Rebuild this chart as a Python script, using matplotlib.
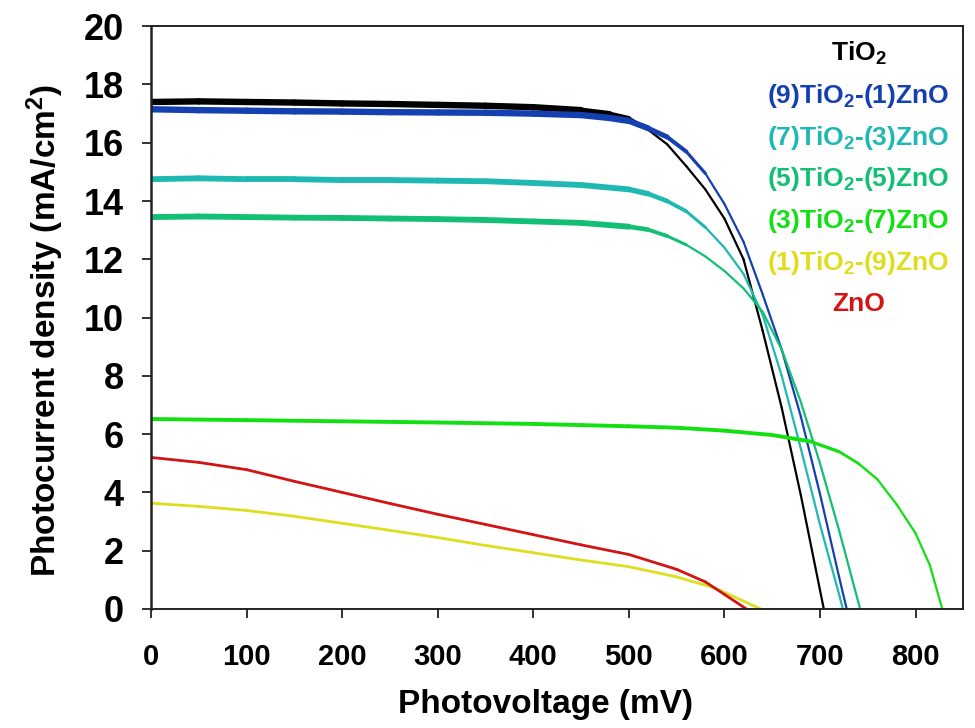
import matplotlib
matplotlib.use('Agg')
import matplotlib.pyplot as plt
from matplotlib.collections import LineCollection
import numpy as np

plt.rcParams['font.family'] = ['Liberation Sans', 'DejaVu Sans']
plt.rcParams['font.weight'] = 'bold'
plt.rcParams['mathtext.fontset'] = 'custom'
plt.rcParams['mathtext.rm'] = 'Liberation Sans:bold'
plt.rcParams['mathtext.it'] = 'Liberation Sans:bold'
plt.rcParams['mathtext.bf'] = 'Liberation Sans:bold'
plt.rcParams['mathtext.default'] = 'rm'

# J-V curves: voltage (mV), current density (mA/cm2)
v_tio2 = [0, 50, 100, 150, 200, 250, 300, 350, 400, 450, 480, 500, 520, 540, 560, 580, 600, 620, 640, 660, 680, 700, 704]
j_tio2 = [17.4, 17.42, 17.4, 17.38, 17.35, 17.33, 17.3, 17.27, 17.22, 17.12, 17.0, 16.85, 16.45, 15.95, 15.2, 14.4, 13.4, 12.0, 9.55, 6.9, 3.9, 0.65, 0]

v_91 = [0, 50, 100, 150, 200, 250, 300, 350, 400, 450, 480, 500, 520, 540, 560, 580, 600, 620, 640, 660, 680, 700, 720, 728]
j_91 = [17.15, 17.12, 17.1, 17.08, 17.07, 17.05, 17.04, 17.03, 17.0, 16.95, 16.85, 16.75, 16.5, 16.2, 15.7, 14.95, 13.9, 12.6, 10.8, 8.9, 6.6, 3.95, 1.1, 0]

v_73 = [0, 50, 100, 150, 200, 250, 300, 350, 400, 450, 500, 520, 540, 560, 580, 600, 620, 640, 660, 680, 700, 720, 724]
j_73 = [14.75, 14.78, 14.75, 14.75, 14.72, 14.72, 14.7, 14.68, 14.62, 14.55, 14.4, 14.25, 14.0, 13.65, 13.1, 12.4, 11.5, 10.1, 8.0, 5.5, 2.9, 0.5, 0]

v_55 = [0, 50, 100, 150, 200, 250, 300, 350, 400, 450, 500, 520, 540, 560, 580, 600, 620, 640, 660, 680, 700, 720, 740, 742]
j_55 = [13.45, 13.47, 13.45, 13.43, 13.42, 13.4, 13.38, 13.35, 13.3, 13.25, 13.12, 13.02, 12.8, 12.5, 12.1, 11.6, 11.0, 10.2, 8.9, 7.1, 5.0, 2.7, 0.25, 0]

v_37 = [0, 100, 200, 300, 400, 450, 500, 550, 600, 650, 690, 720, 740, 760, 780, 800, 815, 828]
j_37 = [6.52, 6.48, 6.44, 6.4, 6.35, 6.31, 6.27, 6.22, 6.12, 5.97, 5.75, 5.4, 5.0, 4.45, 3.6, 2.6, 1.5, 0]

v_19 = [0, 50, 100, 150, 200, 250, 300, 350, 400, 450, 500, 550, 590, 610, 638]
j_19 = [3.63, 3.52, 3.38, 3.18, 2.94, 2.7, 2.45, 2.18, 1.93, 1.68, 1.45, 1.1, 0.72, 0.42, 0]

v_zno = [0, 50, 100, 150, 200, 250, 300, 350, 400, 450, 500, 550, 580, 600, 623]
j_zno = [5.2, 5.03, 4.78, 4.38, 4.0, 3.62, 3.25, 2.9, 2.55, 2.2, 1.87, 1.36, 0.93, 0.5, 0]

labels = ['TiO$_2$', '(9)TiO$_2$-(1)ZnO', '(7)TiO$_2$-(3)ZnO', '(5)TiO$_2$-(5)ZnO',
          '(3)TiO$_2$-(7)ZnO', '(1)TiO$_2$-(9)ZnO', 'ZnO']
colors = ['#000000', '#1540b2', '#1fb8b2', '#12bf74', '#12e012', '#dede1e', '#d21414']
curves = [(v_tio2, j_tio2), (v_91, j_91), (v_73, j_73), (v_55, j_55),
          (v_37, j_37), (v_19, j_19), (v_zno, j_zno)]
# noisy flat part drawn thicker: (end of noise in mV, width)
noisy = [(530, 4.6), (590, 4.6), (590, 4.2), (570, 4.2), (760, 2.8), (0, 2.0), (0, 2.0)]

fig = plt.figure(figsize=(9.75, 7.28), dpi=100)
ax = fig.add_axes([0.155, 0.1635, 0.833, 0.8005])

for (v, j), c, (vend, w) in zip(curves, colors, noisy):
    v = np.array(v, dtype=float)
    j = np.array(j, dtype=float)
    pts = np.column_stack([v, j])
    segs = np.stack([pts[:-1], pts[1:]], axis=1)
    mid = (v[:-1] + v[1:]) / 2
    if vend > 0:
        widths = np.interp(mid, [vend - 90, vend], [w, 1.6])
    else:
        widths = np.full(len(mid), w)
    lc = LineCollection(segs, colors=c, linewidths=widths, capstyle='round', joinstyle='round')
    ax.add_collection(lc)

ax.set_xlim(0, 850)
ax.set_ylim(0, 20)
ax.set_xticks(np.arange(0, 801, 100))
ax.set_yticks(np.arange(0, 21, 2))

for s in ax.spines.values():
    s.set_linewidth(1.4)
    s.set_color('#222222')
ax.spines['left'].set_linewidth(1.8)
ax.tick_params(direction='out', length=6.5, width=1.3, color='#222222')
ax.tick_params(axis='y', labelsize=26, pad=13)
ax.tick_params(axis='x', labelsize=21, pad=18)

ax.set_xlabel('Photovoltage (mV)', fontsize=24, fontweight='bold')
ax.set_ylabel('Photocurrent density (mA/cm$^2$)', fontsize=24, fontweight='bold')
ax.xaxis.set_label_coords(0.485, -0.137)
ax.yaxis.set_label_coords(-0.105, 0.477)

for i, (lab, c) in enumerate(zip(labels, colors)):
    ax.text(0.871, 0.94 - i * 0.0715, lab, color=c, fontsize=19, fontweight='bold',
            ha='center', va='baseline', transform=ax.transAxes)

fig.savefig('out.png', dpi=100)
